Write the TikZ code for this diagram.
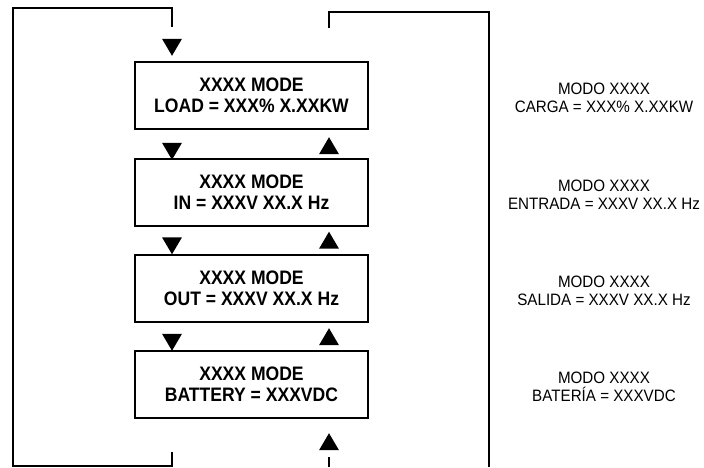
\documentclass[tikz,border=0pt]{standalone}
\usepackage{fontspec}
\setmainfont{Liberation Sans}
\newfontfamily\lcdfont{Liberation Sans}[FakeStretch=0.9]
\newfontfamily\notefont{Liberation Sans}[FakeStretch=0.92]
\usetikzlibrary{positioning,shapes.geometric}

\begin{document}
\begin{tikzpicture}[x=1pt,y=-1pt,
  every node/.style={font=\notefont\fontsize{16.5}{18}\selectfont},
  lcd/.style={draw,line width=2pt,minimum width=233pt,minimum height=67pt,
    align=center,inner sep=0pt,font=\lcdfont\bfseries\fontsize{19.5}{21.5}\selectfont},
  note/.style={align=center},
  tri/.style={isosceles triangle,isosceles triangle apex angle=60,
    isosceles triangle stretches,fill,draw=none,inner sep=0pt,
    minimum height=17pt,minimum width=20pt},
  tridown/.style={tri,shape border rotate=-90},
  triup/.style={tri,shape border rotate=90},
  wire/.style={line width=1.8pt}]
  \useasboundingbox (0,0) rectangle (704,467);
  % display screens
  \node[lcd] (load) at (251.5,95.5) {XXXX MODE\\LOAD = XXX\% X.XXKW};
  \node[lcd] (in) at (251.5,192) {XXXX MODE\\IN = XXXV XX.X Hz};
  \node[lcd] (out) at (251.5,288.5) {XXXX MODE\\OUT = XXXV XX.X Hz};
  \node[lcd] (batt) at (251.5,384.5) {XXXX MODE\\BATTERY = XXXVDC};
  % spanish text
  \node[note] (carga) at (604,98) {MODO XXXX\\CARGA = XXX\% X.XXKW};
  \node[note] (entrada) at (604,194.5) {MODO XXXX\\ENTRADA = XXXV XX.X Hz};
  \node[note] (salida) at (604,291) {MODO XXXX\\SALIDA = XXXV XX.X Hz};
  \node[note] (bateria) at (604,387) {MODO XXXX\\BATERÍA = XXXVDC};
  % down keys
  \node[tridown] (d0) at (172,44.5) {};
  \node[tridown] (d1) at (172,148.5) {};
  \node[tridown] (d2) at (172,243) {};
  \node[tridown] (d3) at (172,339.5) {};
  % up keys
  \node[triup] (u1) at (329,148.5) {};
  \node[triup] (u2) at (329,243) {};
  \node[triup] (u3) at (329,339.5) {};
  \node[triup] (u4) at (329,444.5) {};
  % left loop
  \coordinate (ltop) at (172,27);
  \coordinate (lbot) at (172,452);
  \draw[wire] (ltop) |- (13,8) -- (13,466) -| (lbot);
  % right loop
  \coordinate (rtop) at (329,28);
  \coordinate (rbot) at (329,457);
  \draw[wire] (rtop) |- (489,12) -- (489,467);
  \draw[wire] (rbot) -- (329,467);
\end{tikzpicture}
\end{document}
